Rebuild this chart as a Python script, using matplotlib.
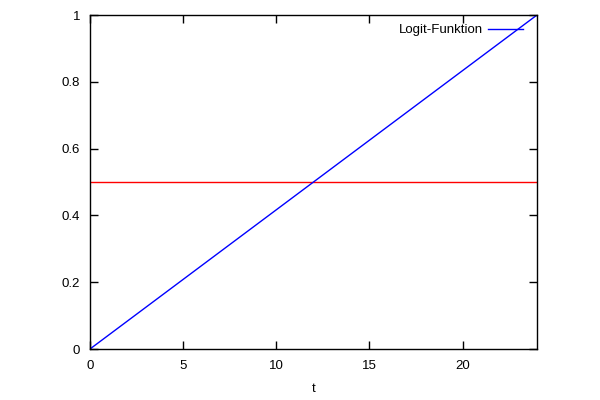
import matplotlib
matplotlib.use("Agg")
import matplotlib.pyplot as plt

plt.rcParams['font.family'] = ['Liberation Sans', 'DejaVu Sans']

t_vals = [0, 24]
logit_vals = [0, 1]
half_t = [0, 24]
half_vals = [0.5, 0.5]
xticks = [0, 5, 10, 15, 20]
yticks = [0, 0.2, 0.4, 0.6, 0.8, 1]
ytick_labels = ['0', '0.2', '0.4', '0.6', '0.8', '1']

fig = plt.figure(figsize=(6, 4), dpi=100)
ax = fig.add_axes([0.15, 0.1275, 0.745, 0.835])
ax.plot(half_t, half_vals, color='red', lw=1)
ax.plot(t_vals, logit_vals, color='blue', lw=1, label='Logit-Funktion')
ax.set_xlim(0, 24)
ax.set_ylim(0, 1)
ax.set_xticks(xticks)
ax.set_yticks(yticks)
ax.set_yticklabels(ytick_labels)
ax.tick_params(direction='in', top=True, right=True, length=6, width=1,
               labelsize=9.5, colors='black')
ax.tick_params(axis='x', pad=8)
ax.tick_params(axis='y', pad=7)
for s in ax.spines.values():
    s.set_linewidth(1)
ax.set_xlabel('t', fontsize=9.5, labelpad=8)
leg = ax.legend(loc='upper right', frameon=False, markerfirst=False,
                fontsize=9.5, handlelength=2.65, handletextpad=0.4,
                borderaxespad=0.3, bbox_to_anchor=(0.99, 1.0))
fig.savefig('out.png', dpi=100)
